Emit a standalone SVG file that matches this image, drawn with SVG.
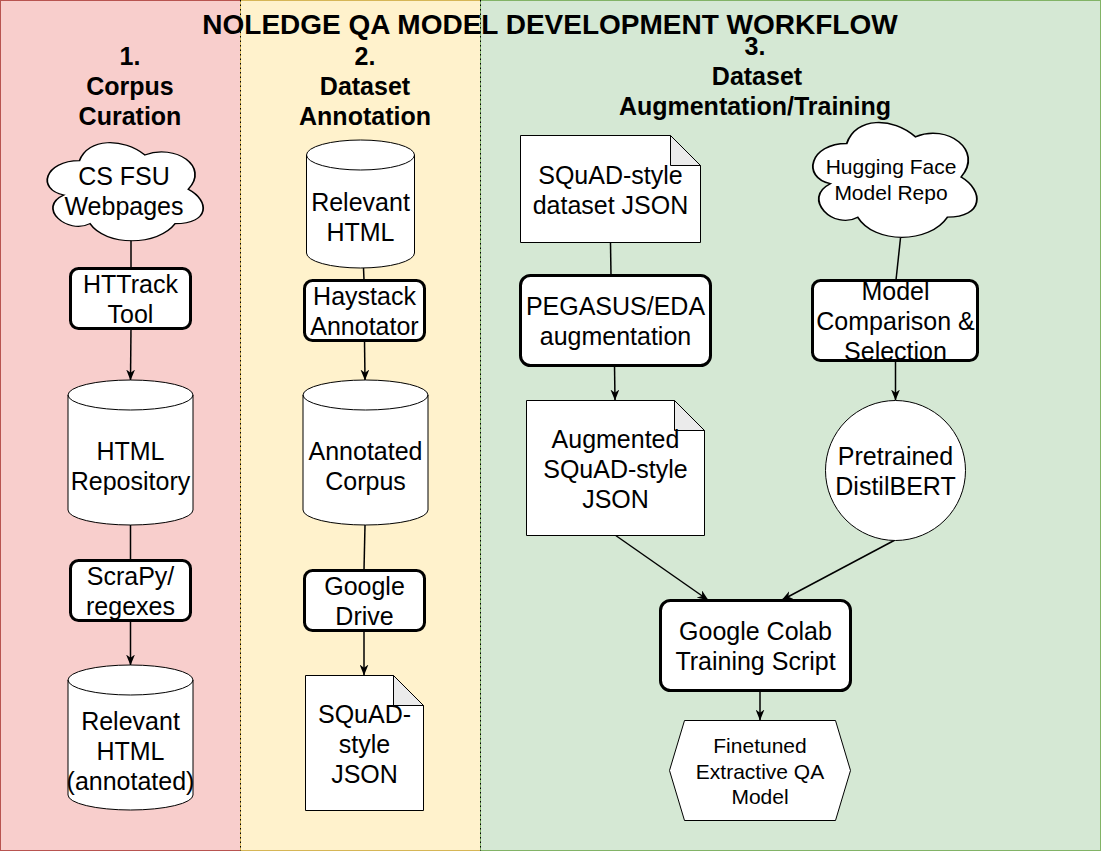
<svg xmlns="http://www.w3.org/2000/svg" width="1101" height="851" viewBox="0 0 1101 851">
<style>
.t{font-family:"Liberation Sans",Arial,sans-serif;font-size:25px;fill:#000;text-anchor:middle}
.s{font-size:21px}
.h{font-weight:bold}
.box{fill:#fff;stroke:#000;stroke-width:3}
.sh{fill:#fff;stroke:#000;stroke-width:1}
.ln{fill:none;stroke:#000;stroke-width:1}
.fold{fill:#ebebeb;stroke:#000;stroke-width:1}
.c{fill:none;stroke:#000;stroke-width:1.5}
.a{marker-end:url(#arr)}
</style>
<defs>
<marker id="arr" viewBox="0 0 10 8" refX="9.5" refY="4" markerWidth="11" markerHeight="9" markerUnits="userSpaceOnUse" orient="auto">
<path d="M0,0 L10,4 L0,8 L3,4 z" fill="#000"/>
</marker>
<path id="cloudp" d="M25,25 C5,25 0,50 16,55 C0,66 18,90 31,80 C40,100 70,100 80,80 C100,80 100,60 87.5,50 C100,30 80,10 62.5,20 C50,5 30,5 25,25 Z"/>
</defs>
<g id="lanes">
<rect x="0.5" y="0.5" width="240" height="850" fill="#f8cecc" stroke="#b85450"/>
<rect x="240.5" y="0.5" width="240" height="850" fill="#fff2cc" stroke="#d6b656"/>
<rect x="480.5" y="0.5" width="620" height="850" fill="#d5e8d4" stroke="#82b366"/>
<line x1="240.5" y1="0" x2="240.5" y2="851" stroke="#000" stroke-dasharray="1.5,3"/>
<line x1="480.5" y1="0" x2="480.5" y2="851" stroke="#000" stroke-dasharray="1.5,3"/>
</g>
<g id="title"><text class="t h" x="550" y="34" style="font-size:28px">NOLEDGE QA MODEL DEVELOPMENT WORKFLOW</text></g>
<g id="header1"><text class="t h" x="130" y="65">1.</text><text class="t h" x="130" y="95">Corpus</text><text class="t h" x="130" y="125">Curation</text></g>
<g id="header2"><text class="t h" x="365" y="65">2.</text><text class="t h" x="365" y="95">Dataset</text><text class="t h" x="365" y="125">Annotation</text></g>
<g id="header3"><text class="t h" x="755" y="55">3.</text><text class="t h" x="757" y="85">Dataset</text><text class="t h" x="755" y="115">Augmentation/Training</text></g>
<g id="connectors">
<line class="c" x1="131" y1="240" x2="131" y2="268"/>
<line class="c a" x1="131" y1="328" x2="130.5" y2="380"/>
<line class="c" x1="130.5" y1="525" x2="130.5" y2="560"/>
<line class="c a" x1="130.5" y1="620" x2="130.5" y2="665"/>
<line class="c" x1="363.5" y1="268" x2="364" y2="280"/>
<line class="c a" x1="364.5" y1="340" x2="365" y2="380"/>
<line class="c" x1="365" y1="525" x2="364" y2="570"/>
<line class="c a" x1="364" y1="630" x2="364" y2="675"/>
<line class="c" x1="610.5" y1="243" x2="611" y2="275"/>
<line class="c a" x1="614.5" y1="365" x2="615" y2="400"/>
<line class="c a" x1="615" y1="535" x2="708" y2="600"/>
<line class="c a" x1="895" y1="540" x2="782" y2="600"/>
<line class="c" x1="900.5" y1="238" x2="896" y2="280"/>
<line class="c a" x1="895.5" y1="360" x2="895.5" y2="400"/>
<line class="c a" x1="760" y1="690" x2="760" y2="720"/>
</g>
<g id="cs-fsu-webpages">
<use href="#cloudp" class="sh" transform="translate(36,132) scale(1.74,1.145)" style="vector-effect:non-scaling-stroke"/>
<text class="t" x="124" y="185">CS FSU</text><text class="t" x="124" y="215">Webpages</text>
</g>
<g id="httrack"><rect class="box" x="70.5" y="268.5" width="120" height="60" rx="8"/><text class="t" x="130.5" y="293">HTTrack</text><text class="t" x="130.5" y="323">Tool</text></g>
<g id="html-repository">
<path class="sh" d="M68,395 a62.5,15 0 0 1 125,0 v115 a62.5,15 0 0 1 -125,0 z"/><path class="ln" d="M68,395 a62.5,15 0 0 0 125,0"/>
<text class="t" x="130.5" y="460">HTML</text><text class="t" x="130.5" y="490">Repository</text>
</g>
<g id="scrapy"><rect class="box" x="70.5" y="560.5" width="120" height="60" rx="8"/><text class="t" x="130.5" y="585">ScraPy/</text><text class="t" x="130.5" y="615">regexes</text></g>
<g id="relevant-html-annotated">
<path class="sh" d="M68,680 a62.5,15 0 0 1 125,0 v115 a62.5,15 0 0 1 -125,0 z"/><path class="ln" d="M68,680 a62.5,15 0 0 0 125,0"/>
<text class="t" x="130.5" y="730">Relevant</text><text class="t" x="130.5" y="760">HTML</text><text class="t" x="130.5" y="790">(annotated)</text>
</g>
<g id="relevant-html">
<path class="sh" d="M306.5,155 a54,15 0 0 1 108,0 v98 a54,15 0 0 1 -108,0 z"/><path class="ln" d="M306.5,155 a54,15 0 0 0 108,0"/>
<text class="t" x="360.5" y="211">Relevant</text><text class="t" x="360.5" y="241">HTML</text>
</g>
<g id="haystack"><rect class="box" x="304.5" y="280.5" width="120" height="60" rx="8"/><text class="t" x="364.5" y="305">Haystack</text><text class="t" x="364.5" y="335">Annotator</text></g>
<g id="annotated-corpus">
<path class="sh" d="M303,395 a62.5,15 0 0 1 125,0 v115 a62.5,15 0 0 1 -125,0 z"/><path class="ln" d="M303,395 a62.5,15 0 0 0 125,0"/>
<text class="t" x="365.5" y="460">Annotated</text><text class="t" x="365.5" y="490">Corpus</text>
</g>
<g id="google-drive"><rect class="box" x="304.5" y="570.5" width="120" height="60" rx="8"/><text class="t" x="364.5" y="595">Google</text><text class="t" x="364.5" y="625">Drive</text></g>
<g id="squad-json">
<path class="sh" d="M305.5,675.5 H393.5 L423.5,705.5 V810.5 H305.5 Z"/><path class="fold" d="M393.5,675.5 V705.5 H423.5 Z"/>
<text class="t" x="364.5" y="723">SQuAD-</text><text class="t" x="364.5" y="753">style</text><text class="t" x="364.5" y="783">JSON</text>
</g>
<g id="squad-dataset-json">
<path class="sh" d="M520.5,135.5 H670.5 L700.5,165.5 V242.5 H520.5 Z"/><path class="fold" d="M670.5,135.5 V165.5 H700.5 Z"/>
<text class="t" x="610.5" y="184">SQuAD-style</text><text class="t" x="610.5" y="214">dataset JSON</text>
</g>
<g id="pegasus"><rect class="box" x="520.5" y="275.5" width="190" height="90" rx="10"/><text class="t" x="615.5" y="315">PEGASUS/EDA</text><text class="t" x="615.5" y="345">augmentation</text></g>
<g id="augmented-json">
<path class="sh" d="M526.5,400.5 H674.5 L704.5,430.5 V535.5 H526.5 Z"/><path class="fold" d="M674.5,400.5 V430.5 H704.5 Z"/>
<text class="t" x="615.5" y="448">Augmented</text><text class="t" x="615.5" y="478">SQuAD-style</text><text class="t" x="615.5" y="508">JSON</text>
</g>
<g id="hugging-face">
<use href="#cloudp" class="sh" transform="translate(801,110) scale(1.83,1.34)" style="vector-effect:non-scaling-stroke"/>
<text class="t s" x="891" y="173.5">Hugging Face</text><text class="t s" x="891" y="199.5">Model Repo</text>
</g>
<g id="model-comparison"><rect class="box" x="812.5" y="280.5" width="165" height="80" rx="8"/><text class="t" x="895.5" y="300">Model</text><text class="t" x="895.5" y="330">Comparison &amp;</text><text class="t" x="895.5" y="360">Selection</text></g>
<g id="distilbert"><circle class="sh" cx="895.5" cy="470.5" r="70"/><text class="t" x="895.5" y="465">Pretrained</text><text class="t" x="895.5" y="495">DistilBERT</text></g>
<g id="colab"><rect class="box" x="660.5" y="600.5" width="190" height="90" rx="10"/><text class="t" x="755.5" y="640">Google Colab</text><text class="t" x="755.5" y="670">Training Script</text></g>
<g id="finetuned">
<path class="sh" d="M684.5,720.5 H835.5 L850.5,770.5 L835.5,820.5 H684.5 L669.5,770.5 Z"/>
<text class="t s" x="760" y="752.5">Finetuned</text><text class="t s" x="760" y="778.5">Extractive QA</text><text class="t s" x="760" y="803.5">Model</text>
</g>
</svg>
